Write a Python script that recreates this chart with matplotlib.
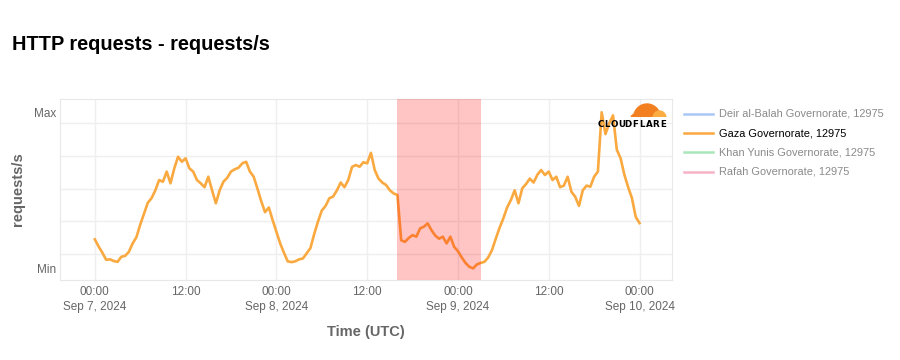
import matplotlib
matplotlib.use("Agg")
import matplotlib.pyplot as plt
from matplotlib.patches import Ellipse, Rectangle
import numpy as np

plt.rcParams['font.family'] = ['Liberation Sans', 'DejaVu Sans']

# hours since Sep 7, 2024 00:00 UTC, one reading every 30 minutes (normalised: 0 = Min, 1 = Max)
gaza = [
    0.186, 0.14, 0.10, 0.055, 0.058, 0.047, 0.042, 0.074, 0.08, 0.106,
    0.16, 0.20, 0.28, 0.35, 0.42, 0.45, 0.50, 0.566, 0.555, 0.62,
    0.545, 0.64, 0.715, 0.683, 0.705, 0.641, 0.62, 0.566, 0.545, 0.52,
    0.587, 0.50, 0.417, 0.50, 0.555, 0.58, 0.62, 0.635, 0.645, 0.673,
    0.683, 0.62, 0.587, 0.51, 0.43, 0.36, 0.39, 0.31, 0.235, 0.16,
    0.10, 0.045, 0.04, 0.045, 0.058, 0.063, 0.096, 0.13, 0.22, 0.30,
    0.37, 0.40, 0.449, 0.46, 0.50, 0.55, 0.52, 0.566, 0.65, 0.662,
    0.651, 0.68, 0.673, 0.74, 0.63, 0.575, 0.55, 0.534, 0.50, 0.48,
    0.47, 0.18, 0.17, 0.195, 0.213, 0.203, 0.256, 0.267, 0.288, 0.245,
    0.21, 0.19, 0.203, 0.16, 0.203, 0.138, 0.11, 0.07, 0.035, 0.01,
    0.0, 0.025, 0.035, 0.042, 0.07, 0.117, 0.19, 0.26, 0.32, 0.39,
    0.438, 0.50, 0.417, 0.513, 0.54, 0.575, 0.55, 0.60, 0.63, 0.598,
    0.62, 0.566, 0.587, 0.52, 0.53, 0.587, 0.491, 0.459, 0.40, 0.50,
    0.53, 0.523, 0.587, 0.62, 1.0, 0.86, 0.93, 0.98, 0.76, 0.705,
    0.60, 0.52, 0.45, 0.33, 0.29,
]
hours = np.arange(len(gaza)) * 0.5

outage = (40.0, 51.0)  # Sep 8 16:00 -> Sep 9 03:00

tick_hours = [0, 12, 24, 36, 48, 60, 72]
tick_labels = ["00:00\nSep 7, 2024", "12:00", "00:00\nSep 8, 2024", "12:00",
               "00:00\nSep 9, 2024", "12:00", "00:00\nSep 10, 2024"]

legend_names = ["Deir al-Balah Governorate, 12975", "Gaza Governorate, 12975",
                "Khan Yunis Governorate, 12975", "Rafah Governorate, 12975"]
legend_colors = ["#a9c8f5", "#f9a93f", "#a9e6bb", "#f7b3c6"]

fig = plt.figure(figsize=(9, 3.6), dpi=100)
ax = fig.add_axes([0.0667, 0.222, 0.68, 0.503])

ax.plot(hours, gaza, color="#f9a93f", lw=1.9, zorder=2)
ax.axvspan(outage[0], outage[1], color="#ff0000", alpha=0.23, lw=0, zorder=3)

ax.set_xlim(-4.6, 76.3)
ax.set_ylim(-0.075, 1.085)
ax.set_xticks(tick_hours)
ax.set_xticklabels(tick_labels, linespacing=1.35)
ax.set_yticks([0, 1])
ax.set_yticklabels(["Min", "Max"])
ax.set_yticks([0.092 + 0.2095 * k for k in range(5)], minor=True)
ax.tick_params(which="both", length=0, colors="#666666", labelsize=8.5)
ax.tick_params(axis="x", pad=4)
ax.tick_params(axis="y", pad=3)
ax.grid(True, axis="x", color="#efefef", lw=1, zorder=0)
ax.grid(True, axis="y", which="minor", color="#efefef", lw=1, zorder=0)
for s in ax.spines.values():
    s.set_color("#e8e8e8")

ax.set_xlabel("Time (UTC)", fontsize=10.5, fontweight="bold", color="#666666", labelpad=9)
ax.set_ylabel("requests/s", fontsize=10.5, fontweight="bold", color="#666666", labelpad=6)

fig.text(12 / 900, 1 - 45 / 360, "HTTP requests - requests/s", fontsize=14.4,
         fontweight="bold", color="black", va="center", ha="left")

# legend drawn by hand
for i, (name, col) in enumerate(zip(legend_names, legend_colors)):
    y = 1 - (114 + 19.2 * i) / 360
    fig.add_artist(plt.Line2D([684 / 900, 713 / 900], [y, y], color=col, lw=1.8))
    fig.text(719 / 900, y, name, fontsize=7.9, va="center", ha="left",
             color="black" if i == 1 else "#8a8a8a")

# cloudflare mark, drawn in pixel units
lx = fig.add_axes([590 / 900, 1 - 132 / 360, 80 / 900, 32 / 360])
lx.set_xlim(590, 670)
lx.set_ylim(132, 100)
lx.axis("off")
clip = Rectangle((590, 100), 80, 17.3, transform=lx.transData)
for cx, cy, w, h, c in [(647, 118, 27, 28, "#f38020"), (636, 118, 10, 8, "#f38020"),
                        (659.5, 118, 13, 14, "#fbad41")]:
    e = Ellipse((cx, cy), w, h, color=c)
    lx.add_patch(e)
    e.set_clip_path(clip)
for k, ch in enumerate("CLOUDFLARE"):
    lx.text(600.5 + k * 6.95, 124.3, ch, fontsize=6.3, fontweight="bold", ha="center",
            va="center", color="black", family="DejaVu Sans")

fig.savefig("out.png", dpi=100, facecolor="white")
